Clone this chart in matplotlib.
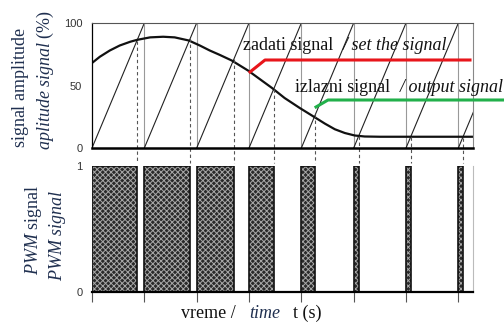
import matplotlib
matplotlib.use('Agg')
import matplotlib.pyplot as plt
from matplotlib.lines import Line2D

plt.rcParams['mathtext.fontset'] = 'custom'
plt.rcParams['mathtext.rm'] = 'Liberation Serif'
plt.rcParams['mathtext.it'] = 'Liberation Serif:italic'
plt.rcParams['hatch.linewidth'] = 0.7

# ---------------- data ----------------
t_end = 7.28                                   # time axis length (carrier periods)
carrier_starts = [0, 1, 2, 3, 4, 5, 6, 7]      # start of each sawtooth ramp
duty = [0.86, 0.88, 0.71, 0.47, 0.27, 0.10, 0.09, 0.08]   # PWM pulse widths
sig_t = [0.0, 0.15, 0.34, 0.53, 0.73, 0.86, 1.11, 1.36, 1.58, 1.85, 2.06, 2.25,
         2.44, 2.67, 2.98, 3.21, 3.44, 3.68, 3.97, 4.24, 4.45, 4.64, 4.83,
         5.02, 5.21, 5.50, 7.28]
sig_v = [68, 73, 78, 82, 85, 86.5, 88.5, 89, 88.5, 86, 82, 78, 74.5, 70, 62,
         55, 48, 40, 32, 25, 19.5, 15, 12, 10, 9.2, 9, 9]
amp_ticks = [0, 50, 100]
pwm_ticks = [0, 1]

W, H = 504, 325
fig = plt.figure(figsize=(W / 100, H / 100), dpi=100)

def fx(px):
    return px / W

def fy(py):
    return 1 - py / H

navy = '#1f2f4f'

# ---------------- top axes ----------------
ax1 = fig.add_axes([fx(92), fy(148), fx(473) - fx(92), fy(23) - fy(148)])
ax1.set_xlim(0, t_end)
ax1.set_ylim(0, 100)

# carrier (sawtooth)
for k in carrier_starts:
    ax1.plot([k, k + 1], [0, 100], color='#222222', lw=0.8, clip_on=True)
    if k + 1 < t_end:
        ax1.plot([k + 1, k + 1], [0, 100], color='#999999', lw=0.8)

# reference signal
ax1.plot(sig_t, sig_v, color='#111111', lw=1.6, solid_capstyle='round',
         solid_joinstyle='round')

# dashed crossing lines
for k, d in zip(carrier_starts, duty):
    ax1.plot([k + d, k + d], [d * 100, -12], color='#555555', lw=0.8,
             ls=(0, (3, 2.5)), clip_on=False)

ax1.set_xticks([])
ax1.set_yticks(amp_ticks)
ax1.set_yticklabels([str(v) for v in amp_ticks], fontsize=8,
                    family='Liberation Sans', color='#333333')
ax1.tick_params(axis='y', length=0, pad=7)
ax1.spines['bottom'].set_linewidth(1.8)
ax1.spines['bottom'].set_color('black')
ax1.spines['left'].set_linewidth(0.9)
ax1.spines['top'].set_linewidth(0.8)
ax1.spines['top'].set_color('#555555')
ax1.spines['right'].set_linewidth(0.8)
ax1.spines['right'].set_color('#888888')

# ---------------- bottom axes ----------------
ax2 = fig.add_axes([fx(92), fy(292), fx(473) - fx(92), fy(166) - fy(292)])
ax2.set_xlim(0, t_end)
ax2.set_ylim(0, 1)
ax2.bar(carrier_starts, [1] * len(duty), width=duty, align='edge',
        facecolor='#2a2a2a', edgecolor='#a8a8a8', hatch='xxxxxx', lw=0)
ax2.bar(carrier_starts, [1] * len(duty), width=duty, align='edge',
        facecolor='none', edgecolor='#111111', lw=1.2)
ax2.set_xticks(carrier_starts)
ax2.set_xticklabels([])
ax2.tick_params(axis='x', direction='out', length=7, width=0.8, color='#555555')
ax2.set_yticks(pwm_ticks)
ax2.set_yticklabels([str(v) for v in pwm_ticks], fontsize=8,
                    family='Liberation Sans', color='#333333')
ax2.tick_params(axis='y', length=0, pad=7)
ax2.spines['left'].set_visible(False)
ax2.spines['top'].set_visible(False)
ax2.spines['bottom'].set_linewidth(1.6)
ax2.spines['right'].set_linewidth(0.8)
ax2.spines['right'].set_color('#bbbbbb')

# ---------------- labels ----------------
fs = 13
fig.text(fx(21), fy(88), r'$\mathrm{signal\ amplitude}$', rotation=90,
         ha='center', va='center', fontsize=fs, color=navy)
fig.text(fx(45), fy(80), r'$\mathit{aplitude\ signal}\ \mathrm{(\%)}$', rotation=90,
         ha='center', va='center', fontsize=fs, color=navy)
fig.text(fx(33), fy(230), r'$\mathit{PWM}\ \mathrm{signal}$', rotation=90,
         ha='center', va='center', fontsize=fs, color=navy)
fig.text(fx(57), fy(235), r'$\mathit{PWM\ signal}$', rotation=90,
         ha='center', va='center', fontsize=fs, color=navy)

fig.text(fx(181), fy(313), 'vreme /', family='Liberation Serif', fontsize=fs,
         ha='left', va='center', color='#111111')
fig.text(fx(249), fy(313), 'time', family='Liberation Serif', style='italic',
         fontsize=fs, ha='left', va='center', color=navy)
fig.text(fx(293), fy(313), 't (s)', family='Liberation Serif', fontsize=fs,
         ha='left', va='center', color='#111111')

# annotations
fig.text(fx(243), fy(46), 'zadati signal', family='Liberation Serif', fontsize=fs,
         ha='left', va='center', color='#111111')
fig.text(fx(343), fy(46), '/ set the signal', family='Liberation Serif',
         style='italic', fontsize=fs, ha='left', va='center', color='#111111')
fig.text(fx(295), fy(87), 'izlazni signal', family='Liberation Serif', fontsize=fs,
         ha='left', va='center', color='#111111')
fig.text(fx(400), fy(87), '/ output signal', family='Liberation Serif',
         style='italic', fontsize=fs, ha='left', va='center', color='#111111')

fig.add_artist(Line2D([fx(250), fx(265), fx(470)], [fy(72), fy(60), fy(60)],
                      transform=fig.transFigure, color='#e8151b', lw=2.2))
fig.add_artist(Line2D([fx(316), fx(328), fx(504)], [fy(107), fy(100), fy(100)],
                      transform=fig.transFigure, color='#22b04b', lw=2.2))

fig.savefig('out.png', dpi=100)
